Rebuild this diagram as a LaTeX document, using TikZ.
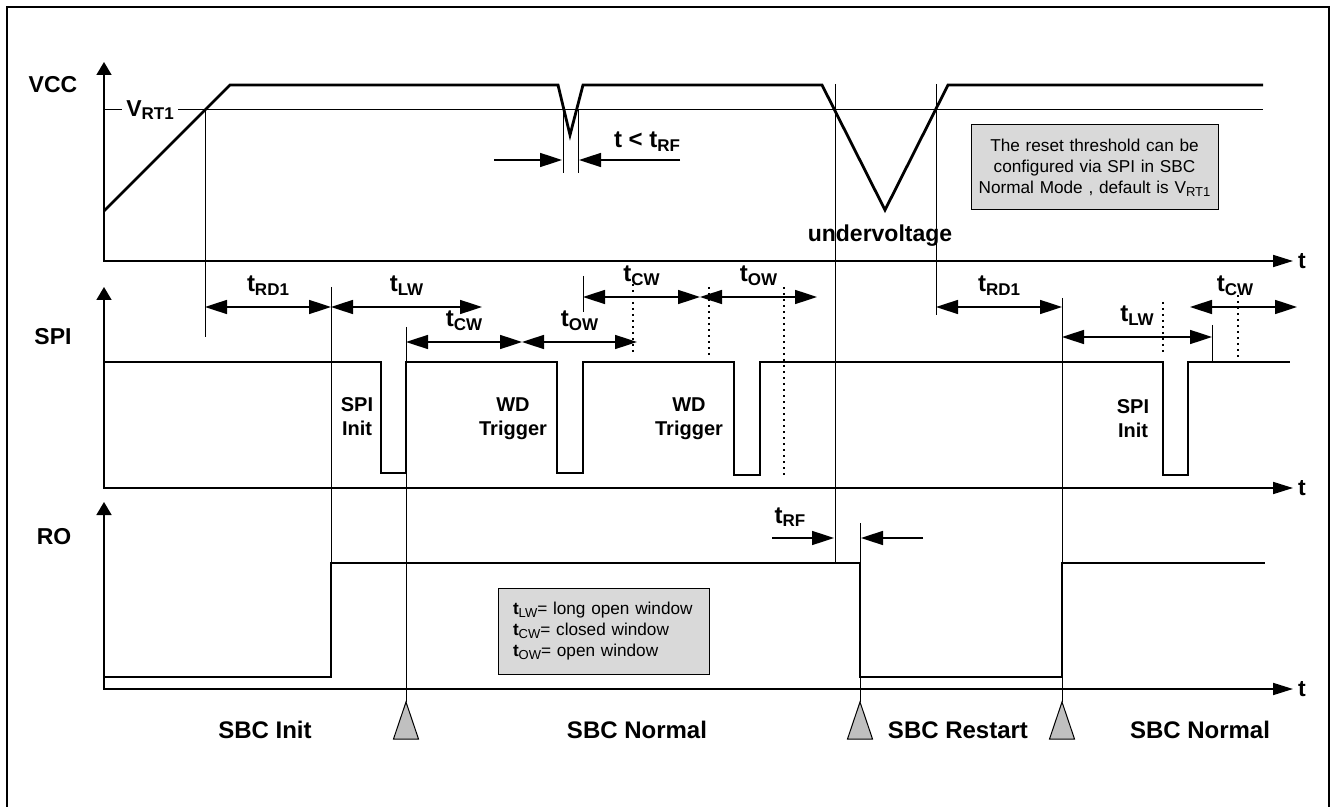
\documentclass[tikz,border=0pt]{standalone}
\usepackage{fontspec}
\setmainfont{Liberation Sans}
\usetikzlibrary{arrows.meta,positioning}
\definecolor{NoteGray}{RGB}{217,217,217}
\definecolor{MarkGray}{RGB}{192,192,192}
\newcommand{\tsub}[1]{t\raisebox{-0.3ex}{\fontsize{8.5}{9}\selectfont #1}}
\newcommand{\lsub}[1]{\raisebox{-0.3ex}{\fontsize{6.5}{7}\selectfont #1}}
\tikzset{
  frame/.style={line width=0.6pt},
  wave/.style={line width=1.4pt},
  axis/.style={line width=0.85pt,
    {Triangle[length=6.5pt,width=7.5pt]}-{Triangle[length=10pt,width=6pt]}},
  guide/.style={line width=0.5pt},
  dotguide/.style={line width=1pt,dash pattern=on 1pt off 2pt},
  dim/.style={line width=0.8pt,
    {Triangle[length=11pt,width=7pt]}-{Triangle[length=11pt,width=7pt]}},
  onearrow/.style={line width=0.8pt,-{Triangle[length=11pt,width=7pt]}},
  lbl/.style={font=\fontsize{11.5}{13}\selectfont\bfseries,inner sep=0pt},
  phase/.style={font=\fontsize{12}{14}\selectfont\bfseries,inner sep=0pt,anchor=base},
  timelbl/.style={font=\fontsize{12}{14}\selectfont\bfseries,inner sep=0pt},
  dimlbl/.style={timelbl,above=5.5pt},
  cmt/.style={font=\fontsize{10}{12}\selectfont\bfseries,align=center,inner sep=0pt},
  notebox/.style={draw,line width=0.5pt,fill=NoteGray,inner sep=0pt,
    font=\fontsize{8.6}{10.5}\selectfont},
  marker/.style={draw,line width=0.5pt,fill=MarkGray}
}

\begin{document}
\begin{tikzpicture}[x=0.5pt,y=-0.5pt]
  \useasboundingbox (0,0) rectangle (1332,807);
  \draw[frame] (7,807) -- (7,7) -- (1329,7) -- (1329,807);

  % axes
  \draw[axis] (104,62) -- (104,261) -- (1293,261);
  \draw[axis] (104,287) -- (104,488) -- (1293,488);
  \draw[axis] (104,502) -- (104,689) -- (1293,689);
  \node[lbl] (vcc) at (53,85) {VCC};
  \node[lbl] (spi) at (53,337) {SPI};
  \node[lbl] (ro) at (54,537) {RO};
  \node[lbl] (tv) at (1302,261) {t};
  \node[lbl] (ts) at (1302,488) {t};
  \node[lbl] (tr) at (1302,689) {t};

  % threshold and VCC
  \draw[guide] (104,110) -- (1263,110);
  \node[lbl,fill=white,inner sep=2pt] (vrt) at (150,110) {V\lsub{\fontsize{8.5}{9}\selectfont RT1}};
  \draw[wave] (104,211) -- (230,85) -- (558,85) -- (570,135) -- (583,85)
    -- (822,85) -- (885,210) -- (948,85) -- (1263,85);
  \node[lbl,anchor=base] (uv) at (880,242) {undervoltage};
  \node[notebox,text width=123.5pt,align=center,minimum height=42.5pt] (note)
    at (1094.5,167.5) {The reset threshold can be\\configured via SPI in SBC\\
    Normal Mode , default is V\lsub{RT1}};

  % SPI
  \draw[wave] (104,362) -- (381,362) -- (381,473) -- (406,473) -- (406,362)
    -- (557,362) -- (557,473) -- (583,473) -- (583,362)
    -- (734,362) -- (734,475) -- (760,475) -- (760,362)
    -- (1163,362) -- (1163,475) -- (1188,475) -- (1188,362) -- (1290,362);
  \node[cmt] (spiA) at (357,417) {SPI\\Init};
  \node[cmt] (wdA) at (513,419) {WD\\Trigger};
  \node[cmt] (wdB) at (689,419) {WD\\Trigger};
  \node[cmt] (spiB) at (1133,419) {SPI\\Init};

  % RO
  \draw[wave] (104,677) -- (331,677) -- (331,563) -- (860,563) -- (860,677)
    -- (1062,677) -- (1062,563) -- (1265,563);
  \node[notebox,text width=90.5pt,inner xsep=7.5pt,align=left,minimum height=43pt]
    (legend) at (603.5,631) {\textbf{t}\lsub{LW}= long open window\\
    \textbf{t}\lsub{CW}= closed window\\\textbf{t}\lsub{OW}= open window};

  % guide lines
  \draw[guide] (205,110) -- (205,337);
  \draw[guide] (331,287) -- (331,563);
  \draw[guide] (406,327) -- (406,702);
  \draw[guide] (835,84) -- (835,563);
  \draw[guide] (860,523) -- (860,702);
  \draw[guide] (936,84) -- (936,315);
  \draw[guide] (1062,298) -- (1062,702);
  \draw[guide] (563,110) -- (563,173);
  \draw[guide] (578,110) -- (578,173);
  \draw[guide] (583,276) -- (583,312);
  \draw[guide] (1212,325) -- (1212,362);
  \draw[dotguide] (633,278) -- (633,355);
  \draw[dotguide] (709,287) -- (709,355);
  \draw[dotguide] (784,287) -- (784,477);
  \draw[dotguide] (1163,302) -- (1163,355);
  \draw[dotguide] (1238,295) -- (1238,358);

  % windows
  \draw[dim] (205,307) -- node[dimlbl] (rdA) {\tsub{RD1}} (331,307);
  \draw[dim] (331,307) -- node[dimlbl] (lwA) {\tsub{LW}} (482,307);
  \draw[dim] (406,342) -- node[dimlbl] (cwA) {\tsub{CW}} (522,342);
  \draw[dim] (522,342) -- node[dimlbl] (owA) {\tsub{OW}} (637,342);
  \draw[dim] (583,297) -- node[dimlbl] (cwB) {\tsub{CW}} (700,297);
  \draw[dim] (700,297) -- node[dimlbl] (owB) {\tsub{OW}} (817,297);
  \draw[dim] (936,307) -- node[dimlbl] (rdB) {\tsub{RD1}} (1062,307);
  \draw[dim] (1062,337) -- node[dimlbl] (lwB) {\tsub{LW}} (1212,337);
  \draw[dim] (1190,307) -- node[dimlbl,pos=0.42] (cwC) {\tsub{CW}} (1297,307);

  % filter times
  \draw[onearrow] (494,160) -- (562,160);
  \draw[onearrow] (680,160) -- (579,160);
  \node[timelbl,anchor=base] (tlt) at (647,148) {t < \tsub{RF}};
  \draw[onearrow] (772,538) -- (834,538);
  \draw[onearrow] (923,538) -- (861,538);
  \node[timelbl,anchor=base] (trf) at (790,523) {\tsub{RF}};

  % mode changes
  \draw[marker] (406,702) -- (393.5,739) -- (418.5,739) -- cycle;
  \draw[marker] (860,702) -- (847.5,739) -- (872.5,739) -- cycle;
  \draw[marker] (1062,702) -- (1049.5,739) -- (1074.5,739) -- cycle;
  \node[phase] (init) at (265,738) {SBC Init};
  \node[phase] (normA) at (637,738) {SBC Normal};
  \node[phase] (restart) at (958,738) {SBC Restart};
  \node[phase] (normB) at (1200,738) {SBC Normal};
\end{tikzpicture}
\end{document}
